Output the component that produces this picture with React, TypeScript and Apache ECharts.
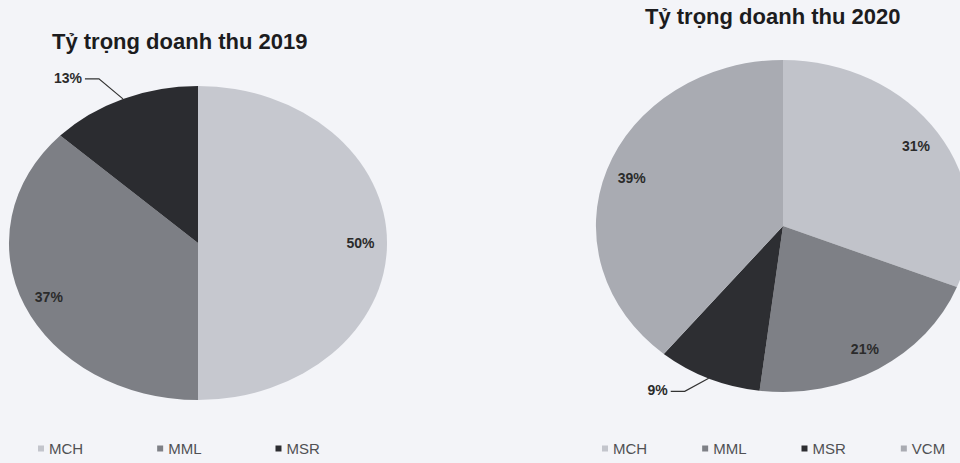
import React, { useEffect, useRef } from 'react';
import * as echarts from 'echarts';

const categories2019 = ['MCH', 'MML', 'MSR'];
const values2019 = [50, 37, 13];
const categories2020 = ['MCH', 'MML', 'MSR', 'VCM'];
const values2020 = [31, 21, 9, 39];
const legendNames = ['MCH', 'MML', 'MSR', 'VCM'];
const titles = ['Tỷ trọng doanh thu 2019', 'Tỷ trọng doanh thu 2020'];

const colors2019: Record<string, string> = { MCH: '#c6c8cf', MML: '#7d7f85', MSR: '#2b2c30' };
const colors2020: Record<string, string> = { MCH: '#c1c3ca', MML: '#7e8086', MSR: '#2d2e32', VCM: '#a9abb2' };
const legendColors: Record<string, string> = { MCH: '#c3c5cc', MML: '#7e8086', MSR: '#2c2d31', VCM: '#a9abb2' };

const FONT = '"Liberation Sans", Arial, sans-serif';

const pies = [
  { cats: categories2019, vals: values2019, colors: colors2019, cx: 198, cy: 243, rx: 189, ry: 157 },
  { cats: categories2020, vals: values2020, colors: colors2020, cx: 783, cy: 226, rx: 187, ry: 166 },
];

function makePieSeries(p: typeof pies[number], idx: number) {
  const total = p.vals.reduce((a, b) => a + b, 0);
  return {
    type: 'custom',
    name: titles[idx],
    coordinateSystem: 'none',
    silent: true,
    data: p.vals.map((v, i) => ({ name: p.cats[i], value: [v] })),
    renderItem: (params: any, api: any) => {
      const i = params.dataIndex;
      const v = api.value(0) as number;
      const before = p.vals.slice(0, i).reduce((a, b) => a + b, 0);
      const a0 = (before / total) * Math.PI * 2 - Math.PI / 2;
      const a1 = ((before + v) / total) * Math.PI * 2 - Math.PI / 2;
      const mid = (a0 + a1) / 2;
      const children: any[] = [
        {
          type: 'sector',
          x: p.cx,
          y: p.cy,
          scaleX: p.rx / p.ry,
          scaleY: 1,
          shape: { cx: 0, cy: 0, r0: 0, r: p.ry, startAngle: a0, endAngle: a1, clockwise: true },
          style: { fill: p.colors[p.cats[i]] },
        },
      ];
      const label = `${v}%`;
      const textStyle = { text: label, fill: '#2b2b2b', font: `bold 14px ${FONT}` };
      if (v / total >= 0.15) {
        const f = 0.86;
        children.push({
          type: 'text',
          x: p.cx + Math.cos(mid) * p.rx * f,
          y: p.cy + Math.sin(mid) * p.ry * f,
          style: { ...textStyle, align: 'center', verticalAlign: 'middle' },
        });
      } else {
        const ex = p.cx + Math.cos(mid) * p.rx;
        const ey = p.cy + Math.sin(mid) * p.ry;
        const sx = Math.sign(Math.cos(mid)) || 1;
        const sy = Math.sign(Math.sin(mid)) || 1;
        const bx = ex + sx * 24;
        const by = ey + sy * (sy < 0 ? 20 : 13);
        const hx = bx + sx * 14;
        children.push({
          type: 'polyline',
          shape: { points: [[ex, ey], [bx, by], [hx, by]] },
          style: { stroke: '#333', fill: null, lineWidth: 1.2 },
        });
        children.push({
          type: 'text',
          x: hx + sx * 3,
          y: by - 1,
          style: { ...textStyle, align: sx < 0 ? 'right' : 'left', verticalAlign: 'middle' },
        });
      }
      return { type: 'group', children };
    },
  };
}

export default function App() {
  const ref = useRef<HTMLDivElement>(null);
  useEffect(() => {
    if (!ref.current) return;
    const chart = echarts.init(ref.current, undefined, { renderer: 'svg' });
    const legendBase = {
      top: 441,
      padding: 0,
      icon: 'rect',
      itemWidth: 6,
      itemHeight: 6,
      selectedMode: false,
      textStyle: { fontSize: 15, color: '#505154', fontFamily: FONT },
    };
    chart.setOption({
      animation: false,
      backgroundColor: '#f3f4f8',
      title: [
        {
          text: titles[0],
          left: 52,
          top: 30,
          padding: 0,
          textStyle: { fontSize: 22, fontWeight: 'bold', color: '#1c1c1e', fontFamily: FONT },
        },
        {
          text: titles[1],
          left: 645,
          top: 5,
          padding: 0,
          textStyle: { fontSize: 22, fontWeight: 'bold', color: '#1c1c1e', fontFamily: FONT },
        },
      ],
      legend: [
        { ...legendBase, data: categories2019, left: 38, itemGap: 74 },
        { ...legendBase, data: categories2020, left: 602, itemGap: 55 },
      ],
      series: [
        ...pies.map((p, i) => makePieSeries(p, i)),
        ...legendNames.map((n) => ({
          type: 'custom',
          name: n,
          coordinateSystem: 'none',
          data: [],
          renderItem: () => null,
          itemStyle: { color: legendColors[n] },
        })),
      ],
    });
    return () => chart.dispose();
  }, []);
  return (
    <div
      ref={ref}
      style={{ position: 'fixed', left: 0, top: 0, width: 960, height: 463 }}
    />
  );
}
